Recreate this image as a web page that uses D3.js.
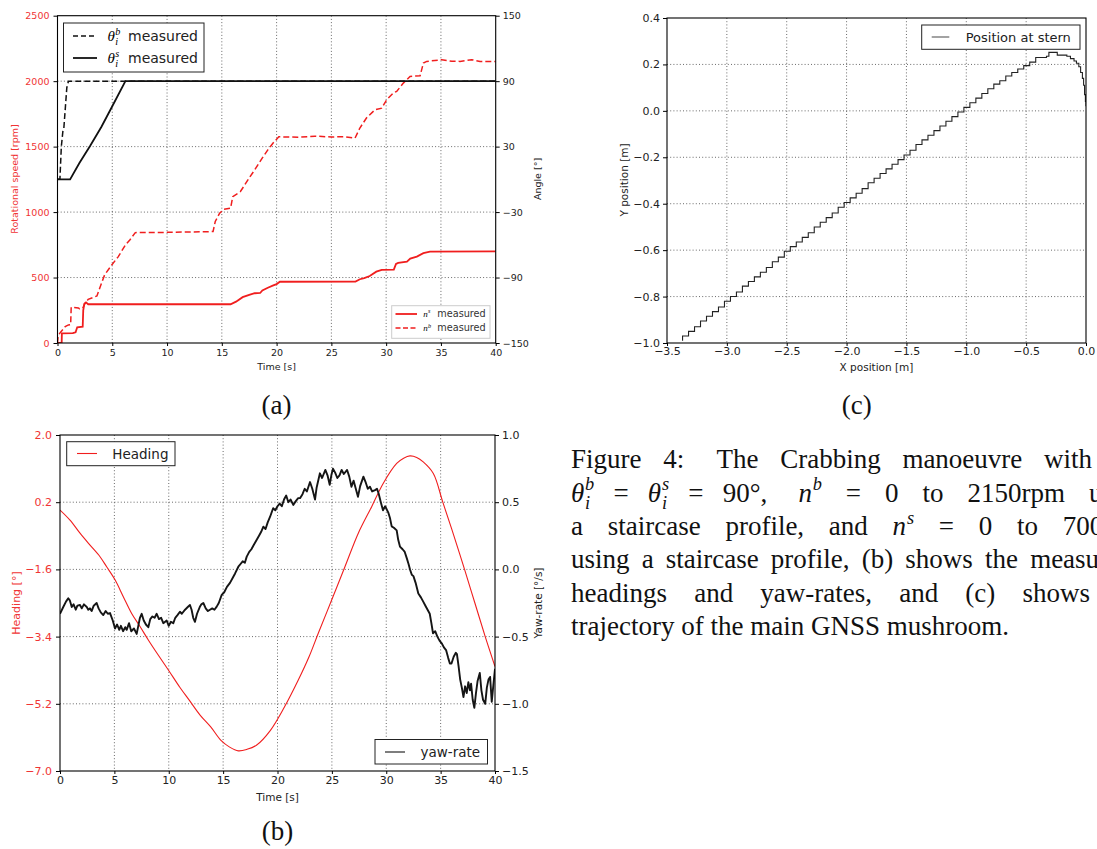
<!DOCTYPE html>
<html><head><meta charset="utf-8">
<script src="https://cdn.jsdelivr.net/npm/d3@7"></script>
<style>
html,body{margin:0;padding:0;background:#fff;overflow:hidden;}
svg{display:block;}
.grid{stroke:#444;stroke-width:0.8;stroke-dasharray:1 2.2;}
</style></head><body>
<svg id="fig" width="1097" height="849"></svg>
<script>
// ================= DATA =================
const timeTicks = [0,5,10,15,20,25,30,35,40];
const rpmTicks = [0,500,1000,1500,2000,2500];
const angleTicks = [-150,-90,-30,30,90,150];
const headingTicks = [-7.0,-5.2,-3.4,-1.6,0.2,2.0];
const yawTicks = [-1.5,-1.0,-0.5,0.0,0.5,1.0];
const xPosTicks = [-3.5,-3.0,-2.5,-2.0,-1.5,-1.0,-0.5,0.0];
const yPosTicks = [-1.0,-0.8,-0.6,-0.4,-0.2,0.0,0.2,0.4];

// (a) azimuth angles [s, deg]
const thetaB = [[0,0],[0.22,0],[0.35,30],[0.5,45],[0.58,47],[0.85,84],[1.0,90],[40,90]];
const thetaS = [[0,0],[1.15,0],[2.0,15],[3.0,31],[4.0,48],[5.0,67],[6.2,90],[40,90]];
// (a) propeller speeds [s, rpm]
const nS = [[0,0],[0.38,0],[0.4,74],[1.4,75],[1.65,82],[1.8,120],[2.3,125],[2.35,250],[2.45,300],[2.6,310],[2.8,296],
  [15.8,296],[16.3,316],[16.9,350],[17.5,368],[18.0,380],[18.5,382],[18.7,402],[19.2,422],[19.7,440],[20.0,450],[20.3,468],
  [27.2,469],[27.6,487],[28.0,495],[28.5,512],[29.1,545],[29.6,558],[30.7,560],[30.9,604],[31.1,612],[31.9,622],
  [32.2,645],[32.8,660],[33.4,686],[34.0,698],[40,700]];
const nB = [[0,0],[0.05,45],[0.2,74],[0.7,125],[1.0,138],[1.2,140],[1.25,273],[1.9,268],[2.0,262],[2.3,265],[2.5,300],
  [2.8,334],[3.6,359],[3.9,430],[4.3,520],[4.95,596],[5.55,660],[6.2,749],[6.6,787],[7.1,843],[10,845],[14.2,851],
  [14.4,928],[14.8,992],[15.2,1022],[15.8,1030],[16.0,1118],[16.7,1157],[17.5,1261],[18.0,1322],[18.7,1414],[19.2,1475],
  [19.7,1529],[20.2,1575],[22,1572],[23.5,1580],[25,1574],[26.2,1576],[27.16,1565],[27.6,1642],[28.2,1718],[28.97,1781],
  [29.6,1794],[30.05,1858],[30.65,1909],[30.96,1922],[31.57,1985],[32.18,2036],[33.1,2041],[33.4,2139],[33.7,2151],
  [35.07,2164],[36.0,2152],[36.74,2151],[37.8,2164],[38.57,2151],[40,2151]];

// (b) heading [s, deg]
const heading = [[0,-0.01],[0.92,-0.28],[1.84,-0.63],[2.76,-0.95],[3.68,-1.26],[4.29,-1.53],[5.06,-1.88],[5.82,-2.33],
  [6.59,-2.78],[7.36,-3.13],[8.12,-3.49],[9.0,-3.88],[9.98,-4.30],[11.0,-4.75],[11.9,-5.11],[12.9,-5.51],[13.86,-5.82],
  [14.8,-6.18],[15.6,-6.36],[16.4,-6.46],[17.2,-6.42],[18.06,-6.31],[19.35,-5.91],[20.65,-5.28],[21.9,-4.57],[22.9,-3.94],
  [23.75,-3.31],[24.98,-2.42],[26.2,-1.53],[27.43,-0.63],[28.66,0.08],[29.73,0.71],[30.96,1.24],[31.6,1.38],[32.18,1.44],
  [32.8,1.40],[33.4,1.28],[34.33,0.97],[35.2,0.2],[36.2,-0.68],[37.2,-1.6],[38.15,-2.5],[39.1,-3.4],[40,-4.2]];
// (b) yaw-rate [s, deg/s]
const yawRate = [[0,-0.33],[0.3,-0.28],[0.55,-0.24],[0.76,-0.215],[0.9,-0.23],[1.08,-0.28],[1.25,-0.26],[1.45,-0.30],
  [1.6,-0.27],[1.84,-0.265],[2.0,-0.29],[2.2,-0.26],[2.46,-0.28],[2.6,-0.30],[2.75,-0.29],[2.91,-0.31],[3.1,-0.27],
  [3.37,-0.25],[3.55,-0.29],[3.75,-0.32],[3.98,-0.34],[4.2,-0.31],[4.4,-0.33],[4.6,-0.325],[4.85,-0.38],[5.06,-0.44],
  [5.25,-0.41],[5.45,-0.45],[5.6,-0.42],[5.8,-0.46],[6.0,-0.43],[6.13,-0.45],[6.35,-0.40],[6.55,-0.46],[6.8,-0.44],
  [7.05,-0.48],[7.2,-0.42],[7.35,-0.36],[7.51,-0.33],[7.7,-0.38],[7.9,-0.41],[8.12,-0.43],[8.3,-0.37],[8.5,-0.35],
  [8.7,-0.36],[8.89,-0.33],[9.1,-0.37],[9.3,-0.36],[9.5,-0.40],[9.81,-0.38],[10.0,-0.42],[10.2,-0.39],[10.42,-0.40],
  [10.6,-0.36],[10.8,-0.34],[11.03,-0.315],[11.2,-0.33],[11.5,-0.30],[11.75,-0.28],[11.95,-0.265],[12.1,-0.30],
  [12.25,-0.36],[12.41,-0.39],[12.6,-0.33],[12.85,-0.28],[13.0,-0.26],[13.18,-0.25],[13.4,-0.29],[13.6,-0.31],
  [13.79,-0.30],[14.0,-0.29],[14.2,-0.30],[14.41,-0.277],[14.6,-0.25],[14.87,-0.19],[15.1,-0.17],[15.35,-0.13],
  [15.63,-0.10],[15.9,-0.06],[16.1,-0.03],[16.4,0.02],[16.6,0.04],[16.8,0.06],[17.0,0.05],[17.17,0.095],[17.4,0.13],
  [17.6,0.15],[17.8,0.18],[18.09,0.22],[18.3,0.25],[18.5,0.28],[18.7,0.318],[18.9,0.30],[19.1,0.35],[19.31,0.39],
  [19.6,0.455],[19.8,0.44],[20.0,0.47],[20.2,0.49],[20.4,0.47],[20.6,0.52],[20.8,0.55],[21.0,0.50],[21.2,0.52],
  [21.45,0.48],[21.7,0.51],[21.9,0.53],[22.07,0.53],[22.3,0.56],[22.5,0.60],[22.7,0.58],[22.99,0.65],[23.2,0.60],
  [23.45,0.52],[23.6,0.61],[23.9,0.715],[24.1,0.68],[24.4,0.74],[24.6,0.70],[24.8,0.63],[24.95,0.70],[25.1,0.75],
  [25.3,0.72],[25.5,0.68],[25.7,0.70],[25.9,0.74],[26.1,0.71],[26.4,0.74],[26.6,0.69],[26.8,0.615],[27.0,0.66],
  [27.2,0.60],[27.4,0.54],[27.6,0.62],[27.9,0.69],[28.1,0.65],[28.3,0.60],[28.5,0.615],[28.7,0.58],[28.97,0.59],
  [29.15,0.60],[29.3,0.565],[29.5,0.50],[29.7,0.44],[29.9,0.47],[30.2,0.42],[30.35,0.38],[30.5,0.32],[30.7,0.31],
  [30.96,0.29],[31.1,0.22],[31.26,0.17],[31.5,0.15],[31.7,0.13],[31.9,0.08],[32.05,0.04],[32.2,-0.004],[32.35,-0.04],
  [32.5,-0.05],[32.7,-0.10],[32.95,-0.18],[33.2,-0.21],[33.4,-0.24],[33.6,-0.27],[33.8,-0.30],[34.0,-0.33],[34.15,-0.40],
  [34.3,-0.475],[34.5,-0.46],[34.7,-0.50],[34.9,-0.53],[35.1,-0.55],[35.3,-0.58],[35.5,-0.60],[35.7,-0.66],[35.85,-0.70],
  [36.0,-0.70],[36.2,-0.65],[36.4,-0.62],[36.5,-0.63],[36.65,-0.72],[36.8,-0.82],[36.95,-0.88],[37.1,-0.95],[37.25,-0.87],
  [37.4,-0.92],[37.55,-0.84],[37.7,-0.90],[37.8,-0.85],[37.95,-0.97],[38.1,-1.03],[38.25,-0.92],[38.4,-0.83],[38.6,-0.77],
  [38.75,-0.90],[38.9,-0.97],[39.1,-1.0],[39.25,-0.88],[39.4,-0.82],[39.55,-0.80],[39.7,-0.985],[39.85,-0.86],[40.0,-0.74]];

// (c) trajectory [x m, y m]
const trajectory = [[-3.37,-0.99],[-3.37,-0.97],[-3.32,-0.95],[-3.27,-0.93],[-3.22,-0.905],[-3.17,-0.885],[-3.12,-0.865],
  [-3.07,-0.845],[-3.02,-0.82],[-2.97,-0.80],[-2.92,-0.78],[-2.87,-0.755],[-2.82,-0.735],[-2.77,-0.715],[-2.72,-0.695],
  [-2.67,-0.675],[-2.62,-0.65],[-2.57,-0.63],[-2.52,-0.605],[-2.47,-0.585],[-2.42,-0.565],[-2.37,-0.545],[-2.32,-0.525],
  [-2.27,-0.50],[-2.22,-0.48],[-2.17,-0.46],[-2.12,-0.44],[-2.07,-0.415],[-2.02,-0.395],[-1.97,-0.375],[-1.92,-0.355],
  [-1.87,-0.335],[-1.82,-0.31],[-1.77,-0.29],[-1.72,-0.27],[-1.67,-0.25],[-1.62,-0.23],[-1.57,-0.21],[-1.52,-0.19],
  [-1.47,-0.17],[-1.42,-0.145],[-1.37,-0.125],[-1.32,-0.105],[-1.27,-0.085],[-1.22,-0.065],[-1.17,-0.045],[-1.12,-0.025],
  [-1.07,-0.005],[-1.02,0.015],[-0.97,0.035],[-0.92,0.055],[-0.87,0.075],[-0.82,0.095],[-0.77,0.115],[-0.72,0.13],
  [-0.67,0.15],[-0.62,0.165],[-0.57,0.18],[-0.52,0.195],[-0.47,0.21],[-0.42,0.23],[-0.33,0.235],[-0.31,0.252],
  [-0.25,0.252],[-0.24,0.24],[-0.16,0.235],[-0.13,0.225],[-0.1,0.215],[-0.08,0.205],[-0.06,0.19],[-0.045,0.165],
  [-0.03,0.14],[-0.02,0.11],[-0.012,0.07],[-0.005,0.04],[0.0,0.02],[0.0,0.02]];

// caption text lines (words)
const captionL1 = ["Figure","4:","The","Crabbing","manoeuvre","with"];
const captionL3 = ["a","staircase","profile,","and","n^s","=","0","to","700rpm"];
const captionL4 = ["using","a","staircase","profile,","(b)","shows","the","measured"];
const captionL5 = ["headings","and","yaw-rates,","and","(c)","shows","the"];
const captionL6 = ["trajectory","of","the","main","GNSS","mushroom."];

// ================= DRAW =================
const RED = "#f01e1e", RED_TXT = "#f03434";
const svg = d3.select('#fig');
const SANS = "DejaVu Sans", SERIF = "Liberation Serif";

function styleAxis(g, color, fs){
  g.select('.domain').remove();
  g.selectAll('.tick line').attr('stroke','#000').attr('stroke-width',1);
  g.selectAll('.tick text').attr('fill',color).style('font-family',SANS).style('font-size',fs+'px');
}
function frame(g,P){
  g.append('rect').attr('x',P.l).attr('y',P.t).attr('width',P.r-P.l).attr('height',P.b-P.t)
   .attr('fill','none').attr('stroke','#000').attr('stroke-width',1.1);
}
function clip(id,P){
  svg.append('clipPath').attr('id',id).append('rect').attr('x',P.l).attr('y',P.t).attr('width',P.r-P.l).attr('height',P.b-P.t);
}
function vlabel(g,txt,x,y,fs,color){
  g.append('text').attr('transform',`translate(${x},${y}) rotate(-90)`).attr('text-anchor','middle')
   .style('font-family',SANS).style('font-size',fs+'px').attr('fill',color).text(txt);
}
// math piece helper: base glyph with optional stacked sup/sub
function mathPiece(g, x, y, base, sup, sub, fs, baseFont){
  const t = g.append('text').attr('x',x).attr('y',y).style('font-family',baseFont||SERIF).style('font-style','italic')
    .style('font-size',fs+'px').text(base);
  let cx = x + t.node().getComputedTextLength() + fs*0.03;
  let w = 0;
  if(sup){ const s = g.append('text').attr('x',cx).attr('y',y-fs*0.42).style('font-family',SERIF).style('font-style','italic')
      .style('font-size',(fs*0.68)+'px').text(sup); w=Math.max(w,s.node().getComputedTextLength()); }
  if(sub){ const s = g.append('text').attr('x',cx).attr('y',y+fs*0.28).style('font-family',SERIF).style('font-style','italic')
      .style('font-size',(fs*0.68)+'px').text(sub); w=Math.max(w,s.node().getComputedTextLength()); }
  return cx + w - x;
}

// ---------- Panel (a) ----------
const A = {l:57.5, r:495.7, t:15.7, b:343};
const xA = d3.scaleLinear([0,40],[A.l,A.r]);
const yR = d3.scaleLinear([0,2500],[A.b,A.t]);
const yAn = d3.scaleLinear([-150,150],[A.b,A.t]);
clip('clipA',A);
const gA = svg.append('g');
gA.selectAll('line.vg').data(timeTicks.slice(1,-1)).join('line').attr('class','grid vg')
  .attr('x1',d=>xA(d)).attr('x2',d=>xA(d)).attr('y1',A.t).attr('y2',A.b);
gA.selectAll('line.hg').data(rpmTicks.slice(1,-1)).join('line').attr('class','grid hg')
  .attr('x1',A.l).attr('x2',A.r).attr('y1',d=>yR(d)).attr('y2',d=>yR(d));
const lineR = d3.line().x(d=>xA(d[0])).y(d=>yR(d[1]));
const lineAn = d3.line().x(d=>xA(d[0])).y(d=>yAn(d[1]));
const plA = gA.append('g').attr('clip-path','url(#clipA)');
plA.append('path').datum(nB).attr('d',lineR).attr('fill','none').attr('stroke',RED).attr('stroke-width',1.5).attr('stroke-dasharray','6 3');
plA.append('path').datum(nS).attr('d',lineR).attr('fill','none').attr('stroke',RED).attr('stroke-width',1.8);
plA.append('path').datum(thetaS).attr('d',lineAn).attr('fill','none').attr('stroke','#111').attr('stroke-width',1.8);
plA.append('path').datum(thetaB).attr('d',lineAn).attr('fill','none').attr('stroke','#111').attr('stroke-width',1.5).attr('stroke-dasharray','6 3');
frame(gA,A);
styleAxis(gA.append('g').attr('transform',`translate(${A.l},0)`).call(d3.axisLeft(yR).tickValues(rpmTicks).tickSize(4).tickPadding(4).tickFormat(d3.format('d'))), RED_TXT, 9.5);
styleAxis(gA.append('g').attr('transform',`translate(${A.r},0)`).call(d3.axisRight(yAn).tickValues(angleTicks).tickSize(4).tickPadding(3).tickFormat(d3.format('d'))), '#222', 9.5);
styleAxis(gA.append('g').attr('transform',`translate(0,${A.b})`).call(d3.axisBottom(xA).tickValues(timeTicks).tickSize(3).tickPadding(3).tickFormat(d3.format('d'))), '#222', 9.5);
gA.append('text').attr('x',(A.l+A.r)/2).attr('y',369.5).attr('text-anchor','middle').style('font-family',SANS).style('font-size','9.5px').attr('fill','#222').text('Time [s]');
vlabel(gA,'Rotational speed [rpm]',18,179,9.5,RED_TXT);
vlabel(gA,'Angle [°]',541,179,9.5,'#222');
// legend (angles)
const lgA1 = gA.append('g');
lgA1.append('rect').attr('x',63.5).attr('y',23).attr('width',140.5).attr('height',49).attr('fill','#fff').attr('stroke','#222').attr('stroke-width',1);
lgA1.append('line').attr('x1',73).attr('x2',97).attr('y1',36).attr('y2',36).attr('stroke','#111').attr('stroke-width',1.5).attr('stroke-dasharray','5 3');
lgA1.append('line').attr('x1',73).attr('x2',97).attr('y1',58).attr('y2',58).attr('stroke','#111').attr('stroke-width',1.8);
mathPiece(lgA1,107.5,41,'θ','b','i',15);
mathPiece(lgA1,107.5,63,'θ','s','i',15);
lgA1.append('text').attr('x',128).attr('y',41).style('font-family',SANS).style('font-size','14px').attr('fill','#222').text('measured');
lgA1.append('text').attr('x',128).attr('y',63).style('font-family',SANS).style('font-size','14px').attr('fill','#222').text('measured');
// legend (speeds)
const lgA2 = gA.append('g');
lgA2.append('rect').attr('x',391.7).attr('y',305.7).attr('width',98.3).attr('height',32.6).attr('fill','#fff').attr('stroke','#ccc').attr('stroke-width',1);
lgA2.append('line').attr('x1',395.5).attr('x2',417).attr('y1',314).attr('y2',314).attr('stroke',RED).attr('stroke-width',1.8);
lgA2.append('line').attr('x1',395.5).attr('x2',417).attr('y1',328).attr('y2',328).attr('stroke',RED).attr('stroke-width',1.5).attr('stroke-dasharray','5 2.5');
mathPiece(lgA2,423.3,317,'n','s',null,9);
mathPiece(lgA2,423.3,331.3,'n','b',null,9);
lgA2.append('text').attr('x',437.3).attr('y',317).style('font-family',SANS).style('font-size','9.7px').attr('fill','#333').text('measured');
lgA2.append('text').attr('x',437.3).attr('y',331.3).style('font-family',SANS).style('font-size','9.7px').attr('fill','#333').text('measured');

// ---------- Panel (b) ----------
const B = {l:60, r:495, t:435, b:771};
const xB = d3.scaleLinear([0,40],[B.l,B.r]);
const yH = d3.scaleLinear([-7,2],[B.b,B.t]);
const yY = d3.scaleLinear([-1.5,1],[B.b,B.t]);
clip('clipB',B);
const gB = svg.append('g');
gB.selectAll('line.vg').data(timeTicks.slice(1,-1)).join('line').attr('class','grid vg')
  .attr('x1',d=>xB(d)).attr('x2',d=>xB(d)).attr('y1',B.t).attr('y2',B.b);
gB.selectAll('line.hg').data(headingTicks.slice(1,-1)).join('line').attr('class','grid hg')
  .attr('x1',B.l).attr('x2',B.r).attr('y1',d=>yH(d)).attr('y2',d=>yH(d));
const plB = gB.append('g').attr('clip-path','url(#clipB)');
plB.append('path').datum(heading).attr('d',d3.line().curve(d3.curveCatmullRom).x(d=>xB(d[0])).y(d=>yH(d[1])))
  .attr('fill','none').attr('stroke',RED).attr('stroke-width',1.1);
plB.append('path').datum(yawRate).attr('d',d3.line().x(d=>xB(d[0])).y(d=>yY(d[1])))
  .attr('fill','none').attr('stroke','#151515').attr('stroke-width',1.9).attr('stroke-linejoin','round');
frame(gB,B);
styleAxis(gB.append('g').attr('transform',`translate(${B.l},0)`).call(d3.axisLeft(yH).tickValues(headingTicks).tickSize(4).tickPadding(4).tickFormat(d3.format('.1f'))), RED_TXT, 11);
styleAxis(gB.append('g').attr('transform',`translate(${B.r},0)`).call(d3.axisRight(yY).tickValues(yawTicks).tickSize(4).tickPadding(3).tickFormat(d3.format('.1f'))), '#222', 11);
styleAxis(gB.append('g').attr('transform',`translate(0,${B.b})`).call(d3.axisBottom(xB).tickValues(timeTicks).tickSize(3).tickPadding(2).tickFormat(d3.format('d'))), '#222', 11);
gB.append('text').attr('x',(B.l+B.r)/2).attr('y',801).attr('text-anchor','middle').style('font-family',SANS).style('font-size','10.5px').attr('fill','#222').text('Time [s]');
vlabel(gB,'Heading [°]',20,603,11,RED_TXT);
vlabel(gB,'Yaw-rate [°/s]',542,603,10.5,'#222');
const lgB1 = gB.append('g');
lgB1.append('rect').attr('x',66.7).attr('y',441.7).attr('width',108.3).attr('height',24).attr('fill','#fff').attr('stroke','#222');
lgB1.append('line').attr('x1',77).attr('x2',97).attr('y1',453.5).attr('y2',453.5).attr('stroke',RED).attr('stroke-width',1.1);
lgB1.append('text').attr('x',112.3).attr('y',458.5).style('font-family',SANS).style('font-size','13.5px').attr('fill','#222').text('Heading');
const lgB2 = gB.append('g');
lgB2.append('rect').attr('x',375).attr('y',739.5).attr('width',112.5).attr('height',24.5).attr('fill','#fff').attr('stroke','#222');
lgB2.append('line').attr('x1',385).attr('x2',405).attr('y1',752).attr('y2',752).attr('stroke','#151515').attr('stroke-width',1.1);
lgB2.append('text').attr('x',420.5).attr('y',756.5).style('font-family',SANS).style('font-size','13.5px').attr('fill','#222').text('yaw-rate');

// ---------- Panel (c) ----------
const C = {l:667, r:1086, t:18, b:343};
const xC = d3.scaleLinear([-3.5,0],[C.l,C.r]);
const yC = d3.scaleLinear([-1,0.4],[C.b,C.t]);
clip('clipC',C);
const gC = svg.append('g');
gC.selectAll('line.vg').data(xPosTicks.slice(1,-1)).join('line').attr('class','grid vg')
  .attr('x1',d=>xC(d)).attr('x2',d=>xC(d)).attr('y1',C.t).attr('y2',C.b);
gC.selectAll('line.hg').data(yPosTicks.slice(1,-1)).join('line').attr('class','grid hg')
  .attr('x1',C.l).attr('x2',C.r).attr('y1',d=>yC(d)).attr('y2',d=>yC(d));
gC.append('g').attr('clip-path','url(#clipC)').append('path').datum(trajectory)
  .attr('d',d3.line().curve(d3.curveStepAfter).x(d=>xC(d[0])).y(d=>yC(d[1])))
  .attr('fill','none').attr('stroke','#222').attr('stroke-width',1.1);
frame(gC,C);
styleAxis(gC.append('g').attr('transform',`translate(${C.l},0)`).call(d3.axisLeft(yC).tickValues(yPosTicks).tickSize(4).tickPadding(3).tickFormat(d3.format('.1f'))), '#222', 11);
styleAxis(gC.append('g').attr('transform',`translate(0,${C.b})`).call(d3.axisBottom(xC).tickValues(xPosTicks).tickSize(3).tickPadding(1).tickFormat(d3.format('.1f'))), '#222', 11);
gC.append('text').attr('x',(C.l+C.r)/2).attr('y',370.5).attr('text-anchor','middle').style('font-family',SANS).style('font-size','10.5px').attr('fill','#222').text('X position [m]');
vlabel(gC,'Y position [m]',628,180,10.5,'#222');
const lgC = gC.append('g');
lgC.append('rect').attr('x',921.7).attr('y',25).attr('width',158.3).attr('height',24.3).attr('fill','#fff').attr('stroke','#222');
lgC.append('line').attr('x1',931.7).attr('x2',949.3).attr('y1',37).attr('y2',37).attr('stroke','#666').attr('stroke-width',1.2);
lgC.append('text').attr('x',965.7).attr('y',41.5).style('font-family',SANS).style('font-size','13px').attr('fill','#222').text('Position at stern');

// ---------- sub-figure labels ----------
[['(a)',276.5,414],['(c)',856.7,414],['(b)',277.5,840]].forEach(([t,x,y])=>{
  svg.append('text').attr('x',x).attr('y',y).attr('text-anchor','middle').style('font-family',SERIF)
   .style('font-size','27px').attr('fill','#111').text(t);
});

// ---------- caption ----------
const FS = 27, X0 = 571;
const cap = svg.append('g').attr('fill','#111').style('font-family',SERIF).style('font-size',FS+'px');
function renderWord(w){
  const g = cap.append('g');
  let width;
  if(typeof w === 'string' && w.includes('^')){
    const [b,s] = w.split('^');
    width = mathPiece(g,0,0,b,s,null,FS);
  } else if (typeof w === 'object'){
    width = mathPiece(g,0,0,w.b,w.sup,w.sub,FS);
  } else {
    const t = g.append('text').attr('x',0).attr('y',0).text(w);
    width = t.node().getComputedTextLength();
  }
  return {g,width};
}
function layoutLine(words, y, anchor, target, weights){
  const items = words.map(renderWord);
  let gap = FS*0.25;
  if(anchor!=null){
    let sumW=0, sumG=0;
    for(let i=0;i<=anchor;i++){ sumW+=items[i].width; if(i>0) sumG += (weights&&weights[i])||1; }
    gap = (target - X0 - sumW)/sumG;
  }
  let x = X0;
  items.forEach((it,i)=>{
    if(i>0) x += gap*((weights&&weights[i])||1);
    it.g.attr('transform',`translate(${x},${y})`);
    x += it.width;
  });
}
layoutLine(captionL1, 468, 5, 1092, [0,1,1.5,1,1,1]);
layoutLine([{b:'θ',sup:'b',sub:'i'},'=',{b:'θ',sup:'s',sub:'i'},'=','90°,','n^b','=','0','to','2150rpm','using'], 501.5, 9, 1065, [0,0.8,0.8,0.8,0.8,1.3,1,1,1,1,1]);
layoutLine(captionL3, 535, 7, 1038);
layoutLine(captionL4, 568, 6, 1018);
layoutLine(captionL5, 601.5, 5, 1090);
layoutLine(captionL6, 635, null, null);
</script>
</body></html>
